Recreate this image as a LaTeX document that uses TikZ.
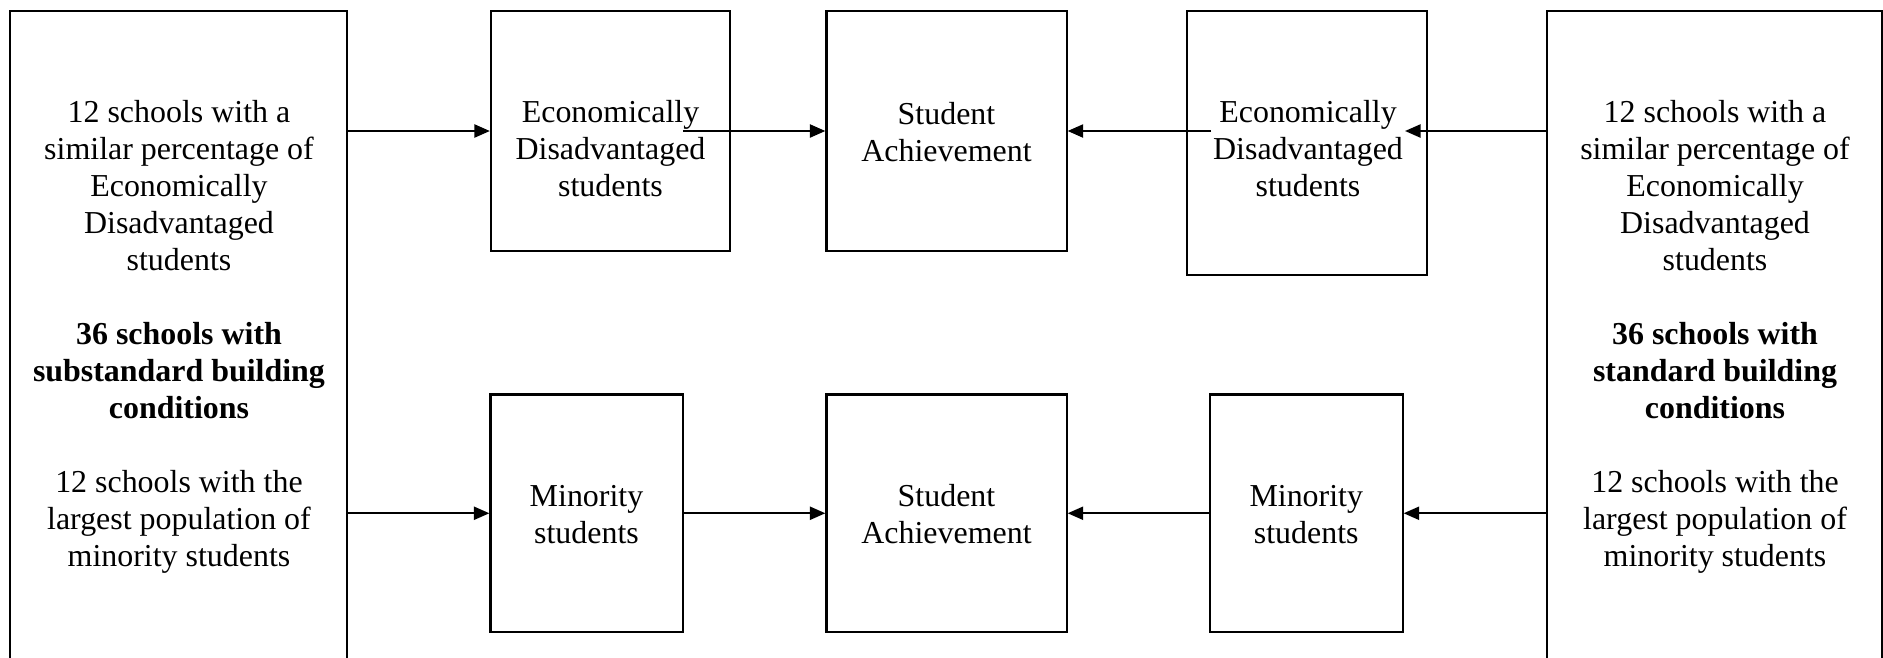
\documentclass[tikz,border=0pt]{standalone}
\usepackage{fontspec}
\setmainfont{Liberation Serif}
\usetikzlibrary{arrows.meta}

\begin{document}
\begin{tikzpicture}[x=0.01cm, y=-0.01cm]
        \tikzstyle{box} = [draw, line width=0.6pt, inner sep=0pt]
        \tikzstyle{txt} = [align=center, inner sep=0pt, font=\fontsize{9.08pt}{10.52pt}\selectfont]
        \tikzstyle{arr} = [line width=0.6pt, -{Triangle[length=4.4pt, width=3.7pt]}]
        \useasboundingbox (0,0) rectangle (1883,657);
        \clip (0,0) rectangle (1883,657);
        % boxes
        \node[box, minimum width=3.365cm, minimum height=6.69cm] (l) at (178.75,345.5) {};
        \node[box, minimum width=3.35cm, minimum height=6.69cm] (r) at (1714.5,345.5) {};
        \node[box, minimum width=2.39cm, minimum height=2.40cm] (eL) at (610.5,131) {};
        \node[box, minimum width=2.40cm, minimum height=2.40cm] (sT) at (946.5,131) {};
        \node[box, minimum width=2.40cm, minimum height=2.64cm] (eR) at (1307,143) {};
        \node[box, minimum width=1.92cm, minimum height=2.375cm] (mL) at (586.5,513.25) {};
        \node[box, minimum width=2.40cm, minimum height=2.375cm] (sB) at (946.5,513.25) {};
        \node[box, minimum width=1.925cm, minimum height=2.375cm] (mR) at (1306.25,513.25) {};
        % texts
        \node[txt] (lt) at (179,337) {12 schools with a\\ similar percentage of\\ Economically\\ Disadvantaged\\ students\\[10.52pt]
            \textbf{36 schools with}\\ \textbf{substandard building}\\ \textbf{conditions}\\[10.52pt]
            12 schools with the\\ largest population of\\ minority students};
        \node[txt] (rt) at (1715,337) {12 schools with a\\ similar percentage of\\ Economically\\ Disadvantaged\\ students\\[10.52pt]
            \textbf{36 schools with}\\ \textbf{standard building}\\ \textbf{conditions}\\[10.52pt]
            12 schools with the\\ largest population of\\ minority students};
        \node[txt] (eLt) at (610.5,149) {Economically\\ Disadvantaged\\ students};
        \node[txt] (eRt) at (1308,149) {Economically\\ Disadvantaged\\ students};
        \node[txt] (sTt) at (946.5,132) {Student\\ Achievement};
        \node[txt] (mLt) at (586.5,514.5) {Minority\\ students};
        \node[txt] (sBt) at (946.5,514.5) {Student\\ Achievement};
        \node[txt] (mRt) at (1306.25,514.5) {Minority\\ students};
        % connectors
        \coordinate (eLout) at (683,131);
        \coordinate (eRout) at (1211,131);
        \coordinate (eRin) at (1405,131);
        \draw[arr] (l.east |- eL.west) -- (eL.west);
        \draw[arr] (eLout) -- (sT.west);
        \draw[arr] (eRout) -- (sT.east);
        \draw[arr] (r.west |- sT.east) -- (eRin);
        \draw[arr] (l.east |- mL.west) -- (mL.west);
        \draw[arr] (r.west |- mR.east) -- (mR.east);
        \foreach \from/\to in {mL/sB, mR/sB}
            \draw[arr] (\from) -- (\to);
\end{tikzpicture}
\end{document}
